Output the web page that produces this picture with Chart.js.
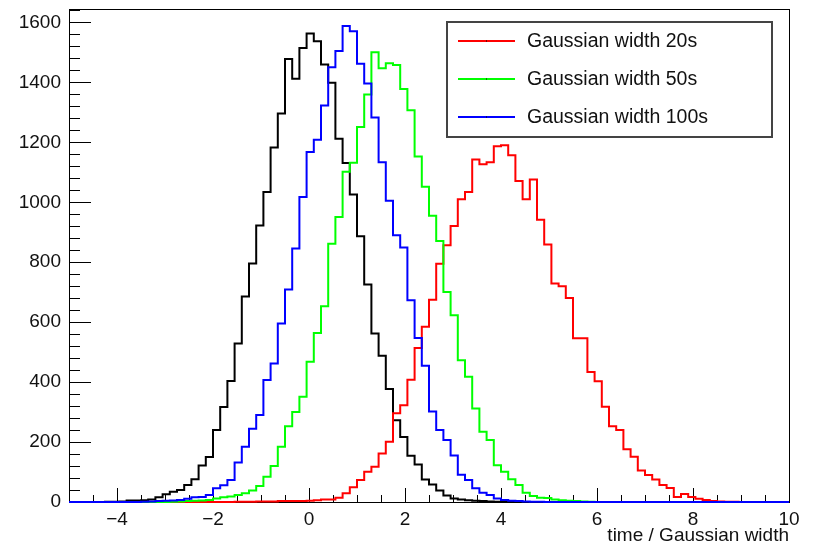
<!DOCTYPE html>
<html>
<head>
<meta charset="utf-8">
<title>Gaussian width histograms</title>
<script src="https://cdn.jsdelivr.net/npm/chart.js@4.4.0/dist/chart.umd.min.js"></script>
<style>
  body { margin: 0; background: #fff; }
  canvas { display: block; }
</style>
</head>
<body>
<canvas id="hist" width="813" height="547"></canvas>
<script>
// 100 bins from -5 to 10
var xMin = -5, xMax = 10, binWidth = 0.15;

// bin contents
var countsNoWidth = [
  0, 0, 0, 0, 0, 1, 1, 2, 5, 5,
  6, 8, 16, 26, 34, 40, 57, 76, 122, 150,
  240, 317, 404, 529, 686, 796, 923, 1034, 1183, 1296,
  1478, 1412, 1515, 1563, 1537, 1460, 1399, 1212, 1131, 1026,
  887, 726, 562, 488, 377, 273, 217, 154, 125, 75,
  58, 38, 22, 12, 8, 6, 4, 3, 2, 1,
  1, 0, 0, 0, 0, 0, 0, 0, 0, 0,
  0, 0, 0, 0, 0, 0, 0, 0, 0, 0,
  0, 0, 0, 0, 0, 0, 0, 0, 0, 0,
  0, 0, 0, 0, 0, 0, 0, 0, 0, 0
];
var counts20s = [
  0, 0, 0, 0, 0, 0, 0, 0, 0, 0,
  0, 0, 0, 0, 0, 0, 0, 0, 0, 0,
  0, 0, 0, 1, 1, 1, 2, 2, 2, 3,
  3, 3, 3, 4, 6, 8, 8, 14, 29, 49,
  73, 101, 118, 162, 201, 296, 323, 408, 514, 585,
  675, 795, 857, 921, 1010, 1034, 1143, 1127, 1134, 1187,
  1190, 1157, 1071, 1010, 1076, 942, 859, 729, 720, 681,
  546, 546, 434, 403, 318, 253, 240, 176, 151, 105,
  90, 75, 57, 47, 17, 27, 17, 11, 7, 3,
  2, 1, 1, 0, 0, 0, 0, 0, 0, 0
];
var counts50s = [
  0, 0, 0, 0, 0, 0, 0, 0, 0, 0,
  0, 0, 0, 0, 1, 2, 3, 4, 5, 7,
  12, 16, 18, 23, 29, 38, 53, 84, 120, 184,
  253, 300, 351, 468, 564, 653, 862, 951, 1102, 1132,
  1251, 1360, 1501, 1447, 1464, 1458, 1378, 1307, 1153, 1052,
  955, 871, 701, 623, 473, 418, 312, 234, 207, 123,
  101, 76, 57, 31, 20, 14, 13, 8, 6, 4,
  3, 2, 1, 0, 0, 0, 0, 0, 0, 0,
  0, 0, 0, 0, 0, 0, 0, 0, 0, 0,
  0, 0, 0, 0, 0, 0, 0, 0, 0, 0
];
var counts100s = [
  0, 0, 0, 0, 0, 0, 0, 0, 0, 0,
  1, 2, 3, 4, 5, 7, 11, 16, 17, 23,
  46, 56, 73, 132, 184, 244, 290, 407, 462, 596,
  709, 846, 1018, 1168, 1209, 1323, 1451, 1505, 1588, 1571,
  1462, 1396, 1283, 1134, 1005, 890, 849, 673, 547, 455,
  302, 240, 207, 155, 91, 73, 46, 31, 23, 12,
  7, 4, 3, 2, 1, 1, 0, 0, 0, 0,
  0, 0, 0, 0, 0, 0, 0, 0, 0, 0,
  0, 0, 0, 0, 0, 0, 0, 0, 0, 0,
  0, 0, 0, 0, 0, 0, 0, 0, 0, 0
];

var xTickValues = [-4, -2, 0, 2, 4, 6, 8, 10];
var yTickValues = [0, 200, 400, 600, 800, 1000, 1200, 1400, 1600];
var legendNames = ['Gaussian width 20s', 'Gaussian width 50s', 'Gaussian width 100s'];

var fontFamily = '"Liberation Sans", Arial, Helvetica, sans-serif';

// turn bin contents into step points at the left bin edges
function histPoints(counts) {
  var pts = [];
  for (var k = 0; k < counts.length; k++) {
    pts.push({ x: xMin + k * binWidth, y: counts[k] });
  }
  pts.push({ x: xMax, y: counts[counts.length - 1] });
  return pts;
}

function histDataset(label, counts, color, order) {
  return {
    label: label,
    data: histPoints(counts),
    borderColor: color,
    backgroundColor: color,
    borderWidth: 2,
    stepped: 'before',
    pointRadius: 0,
    fill: false,
    clip: false,
    order: order
  };
}

// frame + inward ticks like ROOT
var rootFrame = {
  id: 'rootFrame',
  beforeDatasetsDraw: function (chart) {
    var ctx = chart.ctx, a = chart.chartArea;
    var xs = chart.scales.x, ys = chart.scales.y;
    ctx.save();
    ctx.strokeStyle = '#000';
    ctx.lineWidth = 1;
    ctx.strokeRect(a.left + 0.5, a.top + 0.5, a.right - a.left, a.bottom - a.top);
    ctx.beginPath();
    for (var i = 0; i <= (xMax - xMin) * 2; i++) {
      var v = xMin + i * 0.5;
      var px = Math.round(xs.getPixelForValue(v)) + 0.5;
      var len = (Math.abs(v % 2) < 1e-9) ? 14 : 7;
      ctx.moveTo(px, a.bottom);
      ctx.lineTo(px, a.bottom - len);
    }
    for (var w = 0; w <= ys.max; w += 40) {
      var py = Math.round(ys.getPixelForValue(w)) + 0.5;
      var len2 = (w % 200 === 0) ? 22 : 11;
      ctx.moveTo(a.left, py);
      ctx.lineTo(a.left + len2, py);
    }
    ctx.stroke();
    ctx.restore();
  }
};

// boxed legend in the top right corner
var rootLegend = {
  id: 'rootLegend',
  afterDraw: function (chart) {
    var ctx = chart.ctx;
    ctx.save();
    ctx.fillStyle = '#fff';
    ctx.fillRect(447, 22, 325, 115);
    ctx.strokeStyle = '#444';
    ctx.lineWidth = 2;
    ctx.strokeRect(447, 22, 325, 115);
    legendNames.forEach(function (name, i) {
      var ds = chart.data.datasets.find(function (d) { return d.label === name; });
      var y = 41 + i * 38;
      ctx.strokeStyle = ds.borderColor;
      ctx.lineWidth = 2;
      ctx.beginPath();
      ctx.moveTo(458, y);
      ctx.lineTo(515, y);
      ctx.stroke();
      ctx.fillStyle = '#000';
      ctx.fillRect(486, y - 0.5, 1, 1);
      ctx.font = '19.5px ' + fontFamily;
      ctx.textBaseline = 'middle';
      ctx.fillStyle = '#111';
      ctx.fillText(name, 527, y + 1);
    });
    ctx.restore();
  }
};

var ctx = document.getElementById('hist').getContext('2d');
new Chart(ctx, {
  type: 'line',
  data: {
    datasets: [
      histDataset('no width', countsNoWidth, '#000000', 3),
      histDataset(legendNames[0], counts20s, '#ff0000', 2),
      histDataset(legendNames[1], counts50s, '#00ff00', 1),
      histDataset(legendNames[2], counts100s, '#0000ff', 0)
    ]
  },
  plugins: [rootFrame, rootLegend],
  options: {
    responsive: false,
    animation: false,
    devicePixelRatio: 1,
    layout: { padding: { top: 9, right: 24, left: 0, bottom: 0 } },
    plugins: {
      legend: { display: false },
      tooltip: { enabled: false }
    },
    scales: {
      x: {
        type: 'linear',
        min: xMin,
        max: xMax,
        grid: { display: false, drawTicks: false },
        border: { display: false },
        afterBuildTicks: function (scale) {
          scale.ticks = xTickValues.map(function (v) { return { value: v }; });
        },
        afterFit: function (scale) {
          scale.height = 45;
          scale.paddingLeft = 0;
          scale.paddingRight = 0;
        },
        ticks: {
          padding: 6,
          color: '#111',
          font: { family: fontFamily, size: 19 },
          maxRotation: 0,
          autoSkip: false,
          callback: function (v) { return v < 0 ? '\u2212' + Math.abs(v) : String(v); }
        },
        title: {
          display: true,
          text: 'time / Gaussian width',
          align: 'end',
          color: '#111',
          font: { family: fontFamily, size: 19 },
          padding: { top: 0, bottom: 0 }
        }
      },
      y: {
        type: 'linear',
        min: 0,
        max: 1645,
        grid: { display: false, drawTicks: false },
        border: { display: false },
        afterBuildTicks: function (scale) {
          scale.ticks = yTickValues.map(function (v) { return { value: v }; });
        },
        afterFit: function (scale) {
          scale.width = 69;
          scale.paddingTop = 0;
          scale.paddingBottom = 0;
        },
        ticks: {
          padding: 8,
          color: '#111',
          font: { family: fontFamily, size: 19 },
          callback: function (v) { return String(v); }
        }
      }
    }
  }
});
</script>
</body>
</html>
